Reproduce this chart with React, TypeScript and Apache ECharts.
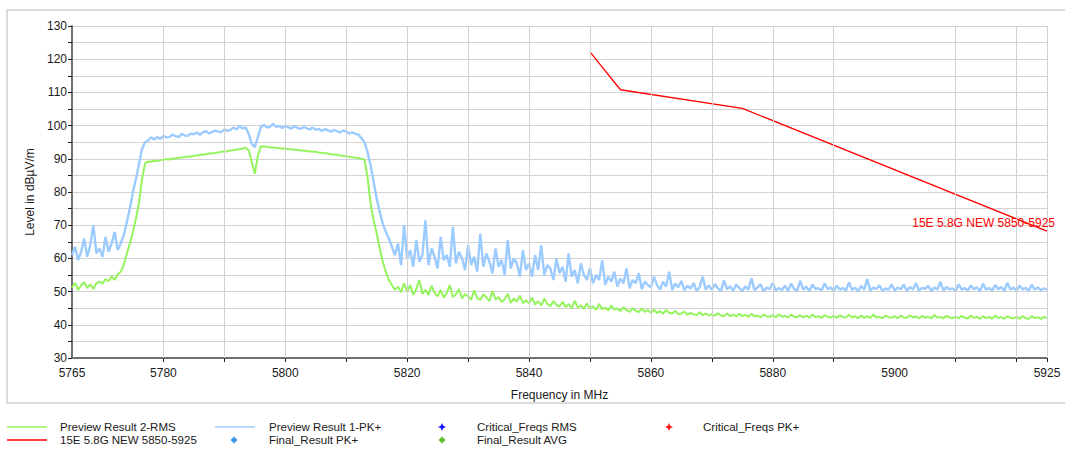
import React, { useEffect, useRef } from "react";
import * as echarts from "echarts";

// ---- axes ----
const X_MIN = 5765;
const X_MAX = 5925;
const Y_MIN = 30;
const Y_MAX = 130;
const Y_INTERVAL = 5;
const xLabelValues = [5765, 5780, 5800, 5820, 5840, 5860, 5880, 5900, 5925];
const xTickValues = [5780, 5790, 5800, 5810, 5820, 5830, 5840, 5850, 5860, 5870, 5880, 5890, 5910, 5920, 5925];
const xGridValues = [5780, 5790, 5800, 5810, 5820, 5830, 5840, 5850, 5860, 5870, 5880, 5890, 5910, 5920, 5925];

// ---- sweep: 5765 MHz .. 5925 MHz, one reading every 0.5 MHz ----
const SWEEP_START = 5765;
const SWEEP_STEP = 0.5;

const NAME_RMS = "Preview Result 2-RMS";
const NAME_PK = "Preview Result 1-PK+";
const NAME_LIMIT = "15E 5.8G NEW 5850-5925";
const NAME_FINAL_PK = "Final_Result PK+";
const NAME_FINAL_AVG = "Final_Result AVG";
const NAME_CRIT_RMS = "Critical_Freqs RMS";
const NAME_CRIT_PK = "Critical_Freqs PK+";

// Preview Result 1-PK+ (dBµV/m), rows of 5 MHz
const pkLevels = [
  61, 63.5, 59.5, 62, 66, 60.5, 64, 70, 61.5, 63,
  60.5, 66.5, 62, 64.5, 68, 62.5, 64.5, 67, 71, 75,
  80, 84, 88.5, 93, 95, 95.5, 96.5, 95.8, 96.6, 96,
  96.9, 96.4, 96.6, 97.3, 96.8, 96.5, 97.5, 97.0, 96.9, 97.6,
  97.4, 97.9, 97.2, 98.0, 98.3, 97.6, 98.1, 98.5, 98.2, 98.0,
  98.9, 98.4, 98.7, 99.4, 98.8, 99.9, 99.1, 99.5, 97.5, 94.5,
  93.5, 96.5, 99.6, 100.2, 99.4, 99.7, 100.5, 99.6, 99.9, 99.3,
  99.9, 99.5, 99.1, 99.8, 99.3, 99.0, 99.6, 99.2, 98.8, 99.4,
  98.7, 99.0, 98.4, 98.9, 98.6, 98.2, 98.7, 98.3, 97.9, 98.5,
  98.2, 97.6, 98.0, 97.5, 97.3, 96.2, 95, 92, 88, 83,
  78, 74, 70.5, 68, 66, 63.5, 61, 64.5, 58, 70,
  60, 62.5, 57.5, 65.5, 59, 61, 71.5, 58, 63, 60.5,
  57, 66.5, 59.5, 61, 57.5, 69.5, 58.5, 62, 60, 56.5,
  64, 58, 60.5, 56, 67.5, 57.5, 61.5, 59, 55.5, 63,
  57.5, 59.5, 55, 65.5, 57, 60, 58.5, 54.5, 62.5, 56.5,
  58.5, 54.5, 61, 56.5, 64, 55, 58, 57, 53.5, 60,
  55.5, 57.5, 53, 61.5, 54.5, 56.5, 52.5, 58.5, 55, 53.5,
  57, 52.5, 55, 53.5, 59.5, 52, 54.5, 53, 56, 51.5,
  54, 52.5, 57, 51, 53.5, 52.5, 55.5, 50.8, 53, 52,
  51.2, 54.5, 52, 50.6, 53, 51.5, 56, 50.5, 52.4, 51.3,
  53.2, 50.4, 51.8, 50.9, 52.6, 50.2, 51.4, 54.5, 50.6, 51.9,
  50.5, 52.3, 51, 50.2, 53.4, 50.7, 51.6, 50.3, 52.1, 51.1,
  50.2, 51.6, 50.6, 54, 50.4, 51.3, 52.2, 50.1, 51.2, 50.7,
  52.6, 50.3, 51.1, 50.5, 51.8, 50.2, 52.4, 50.8, 50.3, 53.2,
  50.6, 51.5, 50.2, 52.1, 50.8, 51, 50.3, 52.5, 50.7, 51.3,
  50.2, 51.8, 50.6, 51.1, 50.3, 52.8, 50.5, 51.2, 50.1, 51.7,
  50.6, 53.8, 50.3, 51.2, 50.8, 51.9, 50.2, 51, 50.6, 52.2,
  50.3, 51.2, 50.7, 52.1, 50.2, 51.4, 50.6, 52.6, 50.3, 51.1,
  50.8, 51.7, 50.2, 51.2, 50.6, 53, 50.3, 51.4, 50.7, 51,
  50.2, 52.2, 50.6, 51.1, 50.3, 51.8, 50.7, 51.3, 50.1, 52.4,
  50.6, 51.1, 50.3, 52, 50.7, 51.4, 50.2, 52.7, 50.6, 51.2,
  50.3, 51.8, 50.7, 51.1, 50.2, 52.1, 50.6, 51.3, 50.4, 51,
  50.6,
];

// Preview Result 2-RMS (dBµV/m), rows of 5 MHz
const rmsLevels = [
  51.2, 52.6, 50.5, 51.9, 52.8, 51.1, 52.2, 50.8, 52.5, 53,
  52.4, 53.8, 53.1, 54.6, 53.5, 55.2, 56, 58, 61.5, 64.5,
  68, 72, 77, 84, 88.7, 89.2, 89.1, 89.4, 89.3, 89.6,
  89.7, 89.9, 89.8, 90.1, 90.1, 90.3, 90.4, 90.5, 90.7, 90.7,
  90.9, 91.0, 91.2, 91.2, 91.4, 91.6, 91.6, 91.8, 91.9, 92.1,
  92.2, 92.3, 92.5, 92.6, 92.8, 92.9, 93.1, 93.3, 92.5, 89,
  85.5, 91, 93.8, 93.7, 93.6, 93.4, 93.4, 93.3, 93.2, 93.1,
  93.1, 92.9, 92.9, 92.7, 92.7, 92.5, 92.5, 92.3, 92.3, 92.1,
  92.1, 91.9, 91.8, 91.7, 91.6, 91.4, 91.3, 91.2, 91.0, 90.9,
  90.8, 90.6, 90.5, 90.3, 90.2, 90.0, 89.8, 84.5, 76.5, 71.5,
  67.5, 63, 59, 56, 53.5, 52, 50.5, 51.5, 49.8, 52.5,
  50, 52, 49, 50.8, 53.5, 49.3, 50.5, 49, 51.8, 49.6,
  48.6, 50.5, 48.2, 49.6, 52, 48.4, 49.2, 50.8, 47.9, 49.3,
  48.6, 47.6, 50.4, 48, 47.5, 49.2, 48.3, 47.1, 50.2, 47.6,
  48.4, 46.9, 47.7, 49.4, 46.6, 47.9, 47, 48.8, 46.5, 47.4,
  46.5, 48.2, 46.1, 47.1, 45.8, 47.9, 46.3, 45.6, 47.2, 46,
  45.5, 46.9, 45.4, 46.2, 45, 47.3, 45.2, 45.9, 44.8, 46.4,
  44.9, 45.6, 44.5, 46.3, 44.7, 45.2, 44.3, 45.8, 44.6, 44.9,
  44.1, 45.3, 44.4, 43.9, 45, 44.2, 43.8, 44.9, 43.9, 44.4,
  43.6, 44.6, 43.5, 44.1, 43.3, 44.5, 43.6, 43.4, 44.2, 43.2,
  43.4, 44, 43, 43.6, 43.2, 42.9, 43.8, 42.9, 43.4, 42.8,
  43.3, 42.7, 43.5, 42.8, 42.6, 43.4, 42.6, 43.1, 42.5, 43.3,
  42.6, 43, 42.4, 43.3, 42.5, 42.8, 42.3, 43.1, 42.6, 42.4,
  42.9, 42.3, 43.2, 42.4, 42.7, 42.2, 43, 42.5, 42.3, 42.9,
  42.2, 42.8, 42.1, 43.1, 42.3, 42.6, 42.1, 42.9, 42.4, 42.2,
  42.7, 42.1, 42.9, 42.3, 42.2, 43, 42.2, 42.6, 42, 42.8,
  42.1, 42.6, 42, 43.1, 42.2, 42.4, 42, 42.8, 42.3, 42.1,
  42.6, 42, 42.8, 42.2, 42.1, 42.9, 42.2, 42.5, 41.9, 42.7,
  42.1, 42.5, 41.9, 43, 42.1, 42.4, 41.9, 42.7, 42.2, 42,
  42.5, 41.9, 42.7, 42.1, 41.9, 42.8, 42.1, 42.4, 41.8, 42.6,
  42, 42.4, 41.8, 42.8, 42, 42.3, 41.8, 42.6, 42.1, 41.9,
  42.4, 41.8, 42.6, 42, 41.8, 42.6, 42, 42.3, 41.8, 42.4,
  42,
];

// Limit line 15E 5.8G NEW 5850-5925
const limitFreqs = [5850, 5855, 5875, 5925];
const limitLevels = [122.2, 110.8, 105.2, 68.2];

const COLOR_RMS = "#95f45e";
const COLOR_PK = "#9ccbff";
const COLOR_LIMIT = "#ff0000";
const COLOR_GRID = "#d2d2d2";
const FONT = '"Liberation Sans", Arial, sans-serif';

function star(cx: number, cy: number, r: number, ri: number) {
  return [
    [cx, cy - r], [cx + ri, cy - ri], [cx + r, cy], [cx + ri, cy + ri],
    [cx, cy + r], [cx - ri, cy + ri], [cx - r, cy], [cx - ri, cy - ri],
  ];
}
function diamond(cx: number, cy: number, r: number) {
  return [[cx, cy - r], [cx + r, cy], [cx, cy + r], [cx - r, cy]];
}

export default function App() {
  const ref = useRef<HTMLDivElement>(null);
  useEffect(() => {
    document.body.style.margin = "0";
    const chart = echarts.init(ref.current!, null, { renderer: "svg" });

    const sweep = (levels: number[]) => levels.map((v, i) => [SWEEP_START + i * SWEEP_STEP, v]);
    const limitData = limitFreqs.map((f, i) => [f, limitLevels[i]]);

    const legendText = (x: number, y: number, text: string) => ({
      type: "text", x, y, silent: true,
      style: { text, fill: "#1a1a1a", font: `11.5px ${FONT}`, align: "left", verticalAlign: "middle" },
    });
    const legendLine = (x: number, y: number, color: string) => ({
      type: "line", silent: true,
      shape: { x1: x, y1: y, x2: x + 40, y2: y },
      style: { stroke: color, lineWidth: 1.3 },
    });

    chart.setOption({
      animation: false,
      backgroundColor: "#ffffff",
      grid: { left: 72, right: 18, top: 26, bottom: 93, containLabel: false },
      xAxis: {
        type: "value",
        min: X_MIN,
        max: X_MAX,
        name: "Frequency in MHz",
        nameLocation: "middle",
        nameGap: 31,
        nameTextStyle: { color: "#1a1a1a", fontSize: 12, fontFamily: FONT },
        axisLine: { show: true, onZero: false, lineStyle: { color: "#707070", width: 2 } },
        axisTick: { show: true, length: 4, customValues: xTickValues, lineStyle: { color: "#222" } },
        axisLabel: {
          customValues: xLabelValues,
          formatter: (v: number) => String(v),
          color: "#1a1a1a", fontSize: 12, fontFamily: FONT, margin: 9,
          showMinLabel: true, showMaxLabel: true,
        },
        splitLine: { show: false },
      },
      yAxis: {
        type: "value",
        min: Y_MIN,
        max: Y_MAX,
        interval: Y_INTERVAL,
        name: "Level in dBµV/m",
        nameLocation: "middle",
        nameGap: 34,
        nameTextStyle: { color: "#1a1a1a", fontSize: 12, fontFamily: FONT },
        axisLine: { show: true, onZero: false, lineStyle: { color: "#707070", width: 2 } },
        axisTick: { show: true, length: 4, lineStyle: { color: "#222" } },
        axisLabel: {
          color: "#1a1a1a", fontSize: 12, fontFamily: FONT, margin: 5,
          formatter: (v: number) => (v % 10 === 0 ? String(v) : ""),
        },
        splitLine: { show: true, lineStyle: { color: COLOR_GRID, width: 1 } },
      },
      series: [
        {
          name: "grid", type: "line", data: [], z: 1, silent: true,
          markLine: {
            silent: true, symbol: "none", animation: false,
            label: { show: false },
            lineStyle: { color: COLOR_GRID, width: 1, type: "solid" },
            data: xGridValues.map((v) => ({ xAxis: v })),
          },
        },
        {
          name: NAME_PK, type: "line", data: sweep(pkLevels), showSymbol: false, symbol: "none",
          lineStyle: { color: COLOR_PK, width: 2.4 }, z: 2,
        },
        {
          name: NAME_RMS, type: "line", data: sweep(rmsLevels), showSymbol: false, symbol: "none",
          lineStyle: { color: COLOR_RMS, width: 2 }, z: 3,
        },
        {
          name: NAME_LIMIT, type: "line", data: limitData, showSymbol: false, symbol: "none",
          lineStyle: { color: COLOR_LIMIT, width: 1.3 }, z: 4,
          markPoint: {
            symbol: "circle", symbolSize: 0,
            data: [{ coord: limitData[limitData.length - 1], value: NAME_LIMIT }],
            label: {
              show: true, position: "inside", formatter: NAME_LIMIT,
              color: COLOR_LIMIT, fontSize: 12, fontFamily: FONT,
              align: "right", verticalAlign: "middle", offset: [8, -8],
            },
          },
        },
      ],
      graphic: [
        {
          type: "rect", silent: true, z: -10,
          shape: { x: 7, y: 10, width: 1080, height: 393 },
          style: { fill: "none", stroke: "#cfcfcf", lineWidth: 1.5 },
        },
        legendLine(7, 427, COLOR_RMS),
        legendText(60, 427, NAME_RMS),
        legendLine(7, 440, COLOR_LIMIT),
        legendText(60, 440, NAME_LIMIT),
        legendLine(215, 427, COLOR_PK),
        legendText(269, 427, NAME_PK),
        { type: "polygon", silent: true, shape: { points: diamond(234, 440, 3.5) }, style: { fill: "#3d9aea" } },
        legendText(269, 440, NAME_FINAL_PK),
        { type: "polygon", silent: true, shape: { points: star(442, 427, 4, 1.3) }, style: { fill: "#1a1aff" } },
        legendText(477, 427, NAME_CRIT_RMS),
        { type: "polygon", silent: true, shape: { points: diamond(442, 440, 3.5) }, style: { fill: "#5fc233" } },
        legendText(477, 440, NAME_FINAL_AVG),
        { type: "polygon", silent: true, shape: { points: star(669, 427, 4, 1.3) }, style: { fill: "#ff1a1a" } },
        legendText(703, 427, NAME_CRIT_PK),
      ],
    });
    return () => chart.dispose();
  }, []);
  return <div ref={ref} style={{ width: 1065, height: 451 }} />;
}
